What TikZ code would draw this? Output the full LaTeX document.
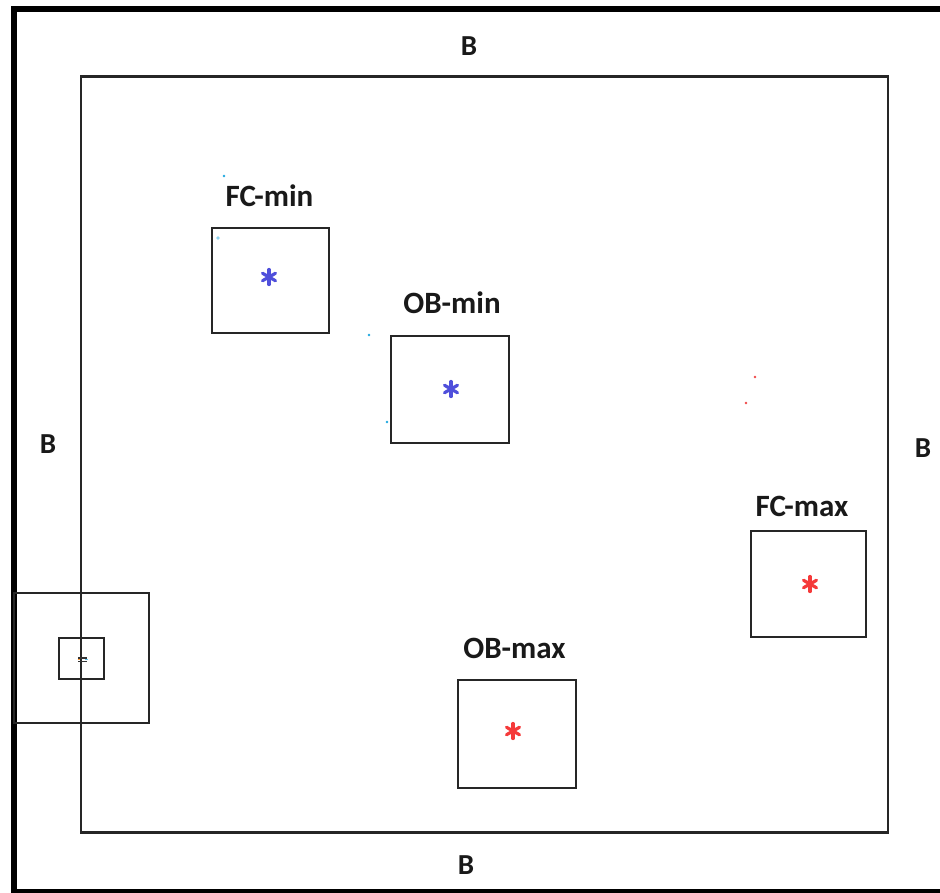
\documentclass[tikz,border=0pt]{standalone}
\usepackage{fontspec}
\setmainfont{Carlito}
\definecolor{starblue}{HTML}{4F4FDB}
\definecolor{starred}{HTML}{F53A3A}
\definecolor{dotcyan}{HTML}{1FA8E0}
\definecolor{dotred}{HTML}{F04848}
\tikzset{
  box/.style={draw=black!85, line width=2.1pt, rectangle, inner sep=0pt},
  lbl/.style={font=\bfseries\fontsize{31}{33}\selectfont, text=black!90, anchor=base, inner sep=0pt},
  blbl/.style={font=\bfseries\fontsize{29}{31}\selectfont, text=black!90, anchor=base, inner sep=0pt},
  dotmark/.style={circle, fill, inner sep=0pt, minimum size=2.6pt},
}
\newcommand{\mystar}[3]{%
  \draw[#3, line width=3.2pt, line cap=round] (#1,#2) ++(0,-7.5) -- ++(0,15);
  \draw[#3, line width=3.2pt, line cap=round] (#1,#2) ++(-6.5,-3.75) -- ++(13,7.5);
  \draw[#3, line width=3.2pt, line cap=round] (#1,#2) ++(-6.5,3.75) -- ++(13,-7.5);
}
\begin{document}
\begin{tikzpicture}[x=1pt,y=-1pt]
\useasboundingbox (0,0) rectangle (940,892);
\clip (0,0) rectangle (940,892);
\fill[white] (0,0) rectangle (940,892);
% outer frame
\draw[line width=6.5pt] (14,9) rectangle (960,892);
% inner frame
\node[box, minimum width=807pt, minimum height=756pt] (inner) at (484.5,454.5) {};
% boxes
\node[box, minimum width=117pt, minimum height=105pt] (fcmin) at (270.5,280.5) {};
\node[box, minimum width=118pt, minimum height=107pt] (obmin) at (450,389.5) {};
\node[box, minimum width=115pt, minimum height=106pt] (fcmax) at (808.5,584) {};
\node[box, minimum width=118pt, minimum height=108pt] (obmax) at (517,734) {};
\node[box, minimum width=135pt, minimum height=130pt] (lbig) at (81.5,658) {};
\node[box, minimum width=45pt, minimum height=41pt] (lsmall) at (81.5,658.5) {};
% labels
\node[lbl] (tfcmin) at (269.5,206.5) {FC-min};
\node[lbl] (tobmin) at (452,313) {OB-min};
\node[lbl] (tfcmax) at (802,516) {FC-max};
\node[lbl] (tobmax) at (514.5,658) {OB-max};
\node[blbl] (btop) at (469,55) {B};
\node[blbl] (bleft) at (48,453) {B};
\node[blbl] (bright) at (923,457) {B};
\node[blbl] (bbottom) at (466,874) {B};
% asterisks
\mystar{269}{277}{starblue}
\mystar{451}{389}{starblue}
\mystar{810}{584}{starred}
\mystar{513}{731}{starred}
\draw[black!80, line width=1.3pt] (78,658) -- (87,658);
\draw[black!80, line width=1.3pt] (78,661.5) -- (87,661.5);
\draw[orange!80, line width=0.9pt] (77.5,659.8) -- (80,659.8);
\draw[dotcyan!70, line width=0.9pt] (85,659.8) -- (87.5,659.8);
% stray dots
\node[dotmark, fill=dotcyan] (d1) at (224,176) {};
\node[dotmark, fill=dotcyan!50, minimum size=3.8pt] (d2) at (218,238) {};
\node[dotmark, fill=dotcyan] (d3) at (369,335) {};
\node[dotmark, fill=dotcyan] (d4) at (387,422) {};
\node[dotmark, fill=dotred] (d5) at (755,377) {};
\node[dotmark, fill=dotred] (d6) at (746,403) {};
\end{tikzpicture}
\end{document}
